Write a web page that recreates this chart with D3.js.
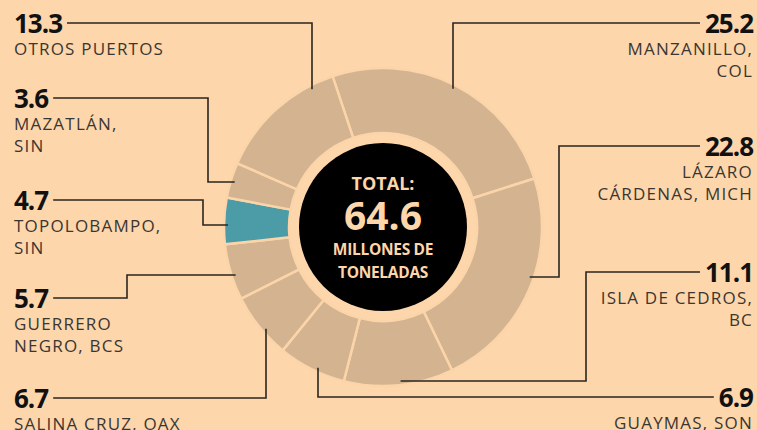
<!DOCTYPE html>
<html>
<head>
<meta charset="utf-8">
<script src="https://cdn.jsdelivr.net/npm/d3@7"></script>
<style>
  body { margin: 0; background: #fed6ab; }
  svg { display: block; }
  .num { font-family: "Open Sans", sans-serif; font-weight: 700; font-size: 26px; fill: #111; letter-spacing: -1px; }
  .name { font-family: "Open Sans", sans-serif; font-weight: 400; font-size: 17px; fill: #3a3632; letter-spacing: 1.2px; }
  .center { font-family: "Open Sans", sans-serif; font-weight: 700; fill: #fed6ab; text-anchor: middle; }
</style>
</head>
<body>
<svg id="chart"></svg>
<script>
const ports = ["MANZANILLO,|COL", "LÁZARO|CÁRDENAS, MICH", "ISLA DE CEDROS,|BC", "GUAYMAS, SON",
  "SALINA CRUZ, OAX", "GUERRERO|NEGRO, BCS", "TOPOLOBAMPO,|SIN", "MAZATLÁN,|SIN", "OTROS PUERTOS"];
const values = [25.2, 22.8, 11.1, 6.9, 6.7, 5.7, 4.7, 3.6, 13.3];
const highlight = "TOPOLOBAMPO,|SIN";
const total = 64.6;

// label layout: side, number baseline, elbow x, end type (v = vertical into ring, h = horizontal at endY)
const layout = [
  { side: "right", y: 33, elbowX: 453, end: "v" },
  { side: "right", y: 156, elbowX: 559, end: "h", endY: 277 },
  { side: "right", y: 282, elbowX: 586, end: "h", endY: 381 },
  { side: "right", y: 407, elbowX: 318, end: "v" },
  { side: "left", y: 408, elbowX: 266, end: "v" },
  { side: "left", y: 308, elbowX: 127, end: "h", endY: 275 },
  { side: "left", y: 210, elbowX: 203, end: "h", endY: 225 },
  { side: "left", y: 108, elbowX: 208, end: "h", endY: 182 },
  { side: "left", y: 33, elbowX: 312, end: "v" }
];

const W = 757, H = 430;
const cx = 383, cy = 227;
const rOuter = 159, rInner = 94, rCore = 84;

const svg = d3.select("#chart").attr("width", W).attr("height", H);

svg.append("rect").attr("width", W).attr("height", H).attr("fill", "#fed6ab");

const g = svg.append("g").attr("transform", `translate(${cx},${cy})`);

const start = -18.5 * Math.PI / 180;
const pie = d3.pie().sort(null).value(d => d.value)
  .startAngle(start).endAngle(start + 2 * Math.PI);
const arc = d3.arc().innerRadius(rInner).outerRadius(rOuter);

const data = ports.map((p, i) => ({ port: p, value: values[i] }));

g.selectAll("path.slice")
  .data(pie(data))
  .join("path")
  .attr("class", "slice")
  .attr("d", arc)
  .attr("fill", d => d.data.port === highlight ? "#4b9ca7" : "#d4b390")
  .attr("stroke", "#fbd5a9")
  .attr("stroke-width", 2.5);

g.append("circle").attr("r", rCore).attr("fill", "#000");

g.append("text").attr("class", "center").attr("y", -37).attr("font-size", 18).text("TOTAL:");
g.append("text").attr("class", "center").attr("y", 3).attr("font-size", 39).attr("font-weight", 600).text(total.toFixed(1));
g.append("text").attr("class", "center").attr("y", 28).attr("font-size", 15.5).attr("letter-spacing", -0.3).text("MILLONES DE");
g.append("text").attr("class", "center").attr("y", 51).attr("font-size", 15.5).attr("letter-spacing", -0.3).text("TONELADAS");

// labels and leader lines
const rLine = rOuter - 4;
data.forEach((d, i) => {
  const L = layout[i];
  const left = L.side === "left";
  const x0 = left ? 14 : 753;
  const num = svg.append("text").attr("class", "num")
    .attr("x", x0).attr("y", L.y)
    .attr("text-anchor", left ? "start" : "end")
    .text(d.value.toFixed(1));
  const tw = num.node().getComputedTextLength();

  const lines = d.port.split("|");
  const name = svg.append("text").attr("class", "name")
    .attr("x", x0).attr("y", L.y + 22)
    .attr("text-anchor", left ? "start" : "end");
  lines.forEach((t, k) => {
    name.append("tspan").attr("x", x0).attr("dy", k === 0 ? 0 : 21.5).text(t);
  });

  const lineY = L.y - 10;
  const sx = left ? x0 + tw + 5 : x0 - tw - 5;
  const pts = [[sx, lineY], [L.elbowX, lineY]];
  if (L.end === "v") {
    const dx = L.elbowX - cx;
    const dy = Math.sqrt(rLine * rLine - dx * dx);
    pts.push([L.elbowX, lineY < cy ? cy - dy : cy + dy]);
  } else {
    const dy = L.endY - cy;
    const dx = Math.sqrt(rLine * rLine - dy * dy);
    pts.push([L.elbowX, L.endY]);
    pts.push([L.elbowX < cx ? cx - dx : cx + dx, L.endY]);
  }
  svg.append("path")
    .attr("d", d3.line()(pts))
    .attr("fill", "none")
    .attr("stroke", "#2b2620")
    .attr("stroke-width", 1.6);
});
</script>
</body>
</html>
